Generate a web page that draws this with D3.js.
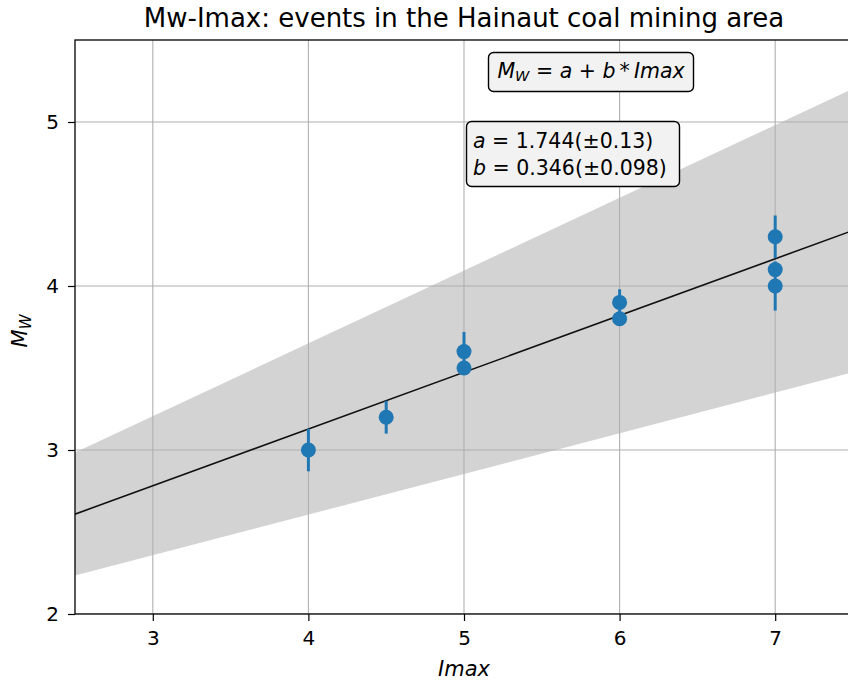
<!DOCTYPE html>
<html>
<head>
<meta charset="utf-8">
<script src="https://cdn.jsdelivr.net/npm/d3@7"></script>
<style>
  body { margin: 0; background: #fff; }
  svg { display: block; font-family: "DejaVu Sans", sans-serif; }
</style>
</head>
<body>
<script>
// ---- data ----
const pointsImax = [4, 4.5, 5, 5, 6, 6, 7, 7, 7];
const pointsMw   = [3.0, 3.2, 3.5, 3.6, 3.8, 3.9, 4.0, 4.1, 4.3];
const pointsErr  = [0.13, 0.1, 0, 0.12, 0, 0.08, 0.15, 0, 0.13];
const fitX       = [2.5, 7.5];
const fitY       = [2.609, 4.339];
const bandUpper  = [2.984, 5.204];
const bandLower  = [2.234, 3.474];
const xTicks     = [3, 4, 5, 6, 7];
const yTicks     = [2, 3, 4, 5];
const titleText  = "Mw-Imax: events in the Hainaut coal mining area";
const coefLines  = [["a", "1.744(±0.13)"], ["b", "0.346(±0.098)"]];

const W = 848, H = 682;
const pL = 75, pR = 853, pT = 40, pB = 614;

const svg = d3.select("body").append("svg").attr("width", W).attr("height", H);

const x = d3.scaleLinear().domain([2.5, 7.5]).range([pL, pR]);
const y = d3.scaleLinear().domain([2, 5.5]).range([pB, pT]);

svg.append("clipPath").attr("id", "clip")
  .append("rect").attr("x", pL).attr("y", pT).attr("width", pR - pL).attr("height", pB - pT);

const plot = svg.append("g").attr("clip-path", "url(#clip)");

// band
const bandData = fitX.map((v, i) => ({x: v, lo: bandLower[i], hi: bandUpper[i]}));
plot.append("path")
  .datum(bandData)
  .attr("d", d3.area().x(d => x(d.x)).y0(d => y(d.lo)).y1(d => y(d.hi)))
  .attr("fill", "#d3d3d3");

// grid
plot.selectAll(".gx").data(xTicks).enter().append("line")
  .attr("x1", d => x(d)).attr("x2", d => x(d)).attr("y1", pT).attr("y2", pB)
  .attr("stroke", "#b0b0b0").attr("stroke-width", 1.1);
plot.selectAll(".gy").data(yTicks).enter().append("line")
  .attr("y1", d => y(d)).attr("y2", d => y(d)).attr("x1", pL).attr("x2", pR)
  .attr("stroke", "#b0b0b0").attr("stroke-width", 1.1);

// fit line
plot.append("path")
  .datum(fitX.map((v, i) => [v, fitY[i]]))
  .attr("d", d3.line().x(d => x(d[0])).y(d => y(d[1])))
  .attr("stroke", "#111").attr("stroke-width", 1.6).attr("fill", "none");

// error bars & points
const pts = pointsImax.map((v, i) => ({x: v, y: pointsMw[i], e: pointsErr[i]}));
plot.selectAll(".eb").data(pts.filter(d => d.e > 0)).enter().append("line")
  .attr("x1", d => x(d.x)).attr("x2", d => x(d.x))
  .attr("y1", d => y(d.y - d.e)).attr("y2", d => y(d.y + d.e))
  .attr("stroke", "#1f77b4").attr("stroke-width", 3);
plot.selectAll(".pt").data(pts).enter().append("circle")
  .attr("cx", d => x(d.x)).attr("cy", d => y(d.y)).attr("r", 7.5)
  .attr("fill", "#1f77b4");

// axes
const xAxis = svg.append("g").attr("transform", `translate(0,${pB})`)
  .call(d3.axisBottom(x).tickValues(xTicks).tickSize(7).tickPadding(10).tickFormat(d3.format("d")));
const yAxis = svg.append("g").attr("transform", `translate(${pL},0)`)
  .call(d3.axisLeft(y).tickValues(yTicks).tickSize(7).tickPadding(9).tickFormat(d3.format("d")));
[xAxis, yAxis].forEach(a => {
  a.select(".domain").remove();
  a.selectAll("text").attr("font-size", 20).attr("fill", "#000").attr("font-family", "DejaVu Sans");
  a.selectAll("line").attr("stroke", "#000").attr("stroke-width", 1.2);
});

// spines
svg.append("rect").attr("x", pL).attr("y", pT).attr("width", pR - pL).attr("height", pB - pT)
  .attr("fill", "none").attr("stroke", "#000").attr("stroke-width", 1.3);

// title
svg.append("text").attr("x", (pL + pR) / 2).attr("y", 27).attr("text-anchor", "middle")
  .attr("font-size", 26).attr("fill", "#000").text(titleText);

// axis labels
svg.append("text").attr("x", (pL + pR) / 2).attr("y", 676).attr("text-anchor", "middle")
  .attr("font-size", 21).attr("font-style", "italic").text("Imax");
const yl = svg.append("text").attr("transform", `translate(27,${(pT + pB) / 2 + 4}) rotate(-90)`)
  .attr("text-anchor", "middle").attr("font-size", 21).attr("font-style", "italic");
yl.append("tspan").text("M");
yl.append("tspan").attr("font-size", 15).attr("dy", 4).text("W");

// formula box
const box1 = svg.append("g");
box1.append("rect").attr("x", 488.5).attr("y", 52.5).attr("width", 205).attr("height", 39).attr("rx", 5)
  .attr("fill", "#f2f2f2").attr("stroke", "#000").attr("stroke-width", 1.4);
const t1 = box1.append("text").attr("x", 591).attr("y", 77.5).attr("text-anchor", "middle")
  .attr("font-size", 20.5).attr("font-style", "italic");
t1.append("tspan").text("M");
t1.append("tspan").attr("font-size", 14.5).attr("dy", 3.5).text("W");
t1.append("tspan").attr("dy", -3.5).attr("font-style", "normal").text(" = ");
t1.append("tspan").text("a");
t1.append("tspan").attr("font-style", "normal").text(" + ");
t1.append("tspan").text("b");
t1.append("tspan").attr("font-style", "normal").text("\u2009*\u2009");
t1.append("tspan").text("Imax");

// coefficients box
const box2 = svg.append("g");
box2.append("rect").attr("x", 466.5).attr("y", 121.5).attr("width", 213).attr("height", 65).attr("rx", 5)
  .attr("fill", "#f2f2f2").attr("stroke", "#000").attr("stroke-width", 1.4);
coefLines.forEach((l, i) => {
  const t = box2.append("text").attr("x", 473).attr("y", 148 + i * 26.5).attr("font-size", 20.5);
  t.append("tspan").attr("font-style", "italic").text(l[0]);
  t.append("tspan").text(" = " + l[1]);
});
</script>
</body>
</html>
